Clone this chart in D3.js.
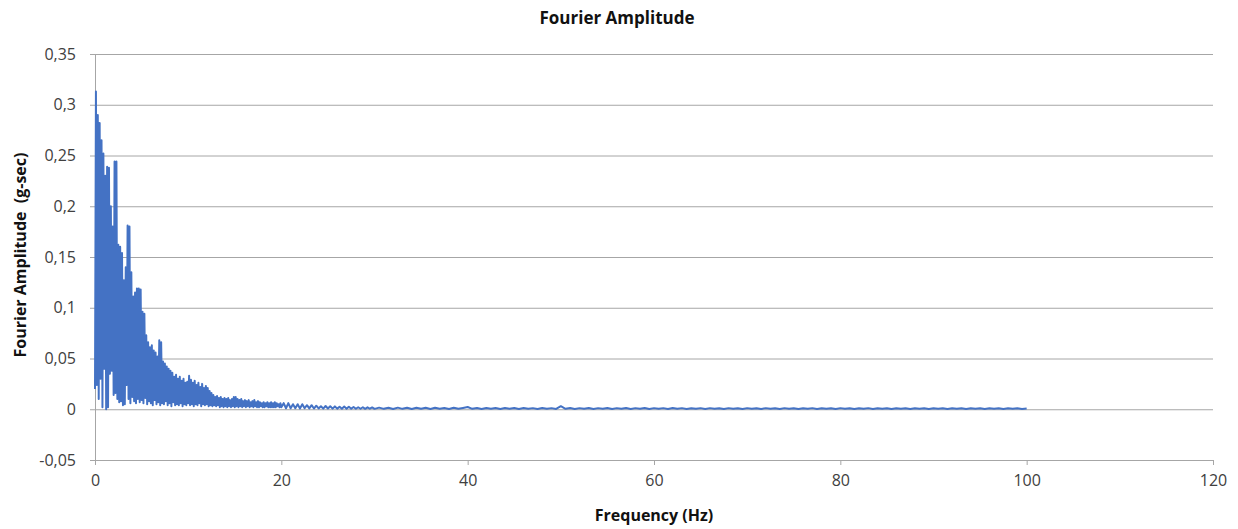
<!DOCTYPE html>
<html>
<head>
<meta charset="utf-8">
<script src="https://cdn.jsdelivr.net/npm/d3@7"></script>
<style>
  body { margin: 0; background: #fff; }
  text { font-family: "Open Sans", "Noto Sans", sans-serif; }
  .axis text { fill: #404040; font-size: 16px; }
  .axis .domain, .axis .tick line { stroke: #a6a6a6; }
  .grid line { stroke: #a6a6a6; }
  .grid .domain { display: none; }
  .title { font-size: 17px; font-weight: bold; fill: #111; }
  .axis-title { font-size: 16px; font-weight: bold; fill: #111; white-space: pre; }
</style>
</head>
<body>
<svg id="chart"></svg>
<script>
// Fourier amplitude spectrum in three bands
// band 1: 0 - 20 Hz, every 0.1 Hz
const band1Start = 0;
const band1Step = 0.1;
const band1 = [
  0.020, 0.313, 0.024, 0.290, 0.010, 0.282, 0.030, 0.265, 0.002, 0.252,
  0.040, 0.230, 0.000, 0.239, 0.002, 0.238, 0.035, 0.200, 0.038, 0.180,
  0.014, 0.244, 0.016, 0.244, 0.010, 0.162, 0.007, 0.160, 0.008, 0.154,
  0.004, 0.127, 0.005, 0.140, 0.024, 0.181, 0.010, 0.180, 0.006, 0.135,
  0.012, 0.111, 0.008, 0.115, 0.006, 0.119, 0.010, 0.119, 0.007, 0.118,
  0.009, 0.096, 0.006, 0.094, 0.011, 0.073, 0.005, 0.066, 0.008, 0.061,
  0.006, 0.063, 0.004, 0.058, 0.009, 0.056, 0.005, 0.052, 0.007, 0.068,
  0.004, 0.066, 0.006, 0.047, 0.005, 0.045, 0.008, 0.042, 0.004, 0.040,
  0.006, 0.038, 0.003, 0.036, 0.007, 0.032, 0.004, 0.034, 0.005, 0.030,
  0.004, 0.032, 0.006, 0.028, 0.003, 0.030, 0.005, 0.026, 0.004, 0.027,
  0.006, 0.033, 0.004, 0.029, 0.005, 0.026, 0.003, 0.028, 0.005, 0.024,
  0.004, 0.026, 0.006, 0.022, 0.003, 0.025, 0.005, 0.021, 0.004, 0.023,
  0.005, 0.021, 0.003, 0.018, 0.004, 0.016, 0.003, 0.014, 0.004, 0.012,
  0.003, 0.013, 0.004, 0.011, 0.002, 0.012, 0.003, 0.010, 0.002, 0.011,
  0.003, 0.010, 0.002, 0.011, 0.003, 0.009, 0.002, 0.010, 0.003, 0.012,
  0.002, 0.012, 0.003, 0.010, 0.002, 0.009, 0.003, 0.010, 0.002, 0.008,
  0.003, 0.009, 0.002, 0.008, 0.003, 0.009, 0.002, 0.007, 0.003, 0.008,
  0.002, 0.009, 0.003, 0.007, 0.002, 0.008, 0.002, 0.007, 0.003, 0.006,
  0.002, 0.007, 0.002, 0.006, 0.003, 0.007, 0.002, 0.006, 0.002, 0.007,
  0.002, 0.006, 0.002, 0.007, 0.002, 0.006, 0.003, 0.005, 0.002, 0.006,
  0.002
];

// band 2: 20.25 - 30 Hz, every 0.25 Hz
const band2Start = 20.25;
const band2Step = 0.25;
const band2 = [
  0.0060, 0.0010, 0.0060, 0.0010, 0.0050, 0.0010, 0.0050, 0.0008, 0.0050, 0.0010,
  0.0040, 0.0008, 0.0040, 0.0007, 0.0035, 0.0008, 0.0030, 0.0006, 0.0032, 0.0007,
  0.0030, 0.0006, 0.0028, 0.0006, 0.0025, 0.0005, 0.0026, 0.0006, 0.0024, 0.0005,
  0.0022, 0.0005, 0.0020, 0.0005, 0.0020, 0.0004, 0.0019, 0.0005, 0.0018, 0.0004
];

// band 3: 30.5 - 100 Hz, every 0.5 Hz
const band3Start = 30.5;
const band3Step = 0.5;
const band3 = [
  0.0016, 0.0004, 0.0015, 0.0003, 0.0016, 0.0004, 0.0014, 0.0003, 0.0015, 0.0004,
  0.0014, 0.0003, 0.0015, 0.0004, 0.0013, 0.0003, 0.0014, 0.0004, 0.0013, 0.0022,
  0.0004, 0.0013, 0.0003, 0.0012, 0.0004, 0.0013, 0.0003, 0.0012, 0.0004, 0.0013,
  0.0003, 0.0012, 0.0004, 0.0011, 0.0003, 0.0012, 0.0004, 0.0011, 0.0003, 0.0030,
  0.0004, 0.0012, 0.0003, 0.0011, 0.0004, 0.0012, 0.0003, 0.0011, 0.0004, 0.0012,
  0.0003, 0.0011, 0.0004, 0.0012, 0.0003, 0.0011, 0.0004, 0.0012, 0.0003, 0.0011,
  0.0004, 0.0011, 0.0003, 0.0012, 0.0004, 0.0011, 0.0003, 0.0010, 0.0004, 0.0011,
  0.0003, 0.0011, 0.0004, 0.0010, 0.0003, 0.0011, 0.0004, 0.0010, 0.0003, 0.0011,
  0.0004, 0.0010, 0.0003, 0.0011, 0.0004, 0.0010, 0.0003, 0.0011, 0.0004, 0.0010,
  0.0003, 0.0010, 0.0004, 0.0011, 0.0003, 0.0010, 0.0004, 0.0010, 0.0003, 0.0011,
  0.0004, 0.0010, 0.0003, 0.0010, 0.0004, 0.0011, 0.0003, 0.0010, 0.0004, 0.0010,
  0.0003, 0.0010, 0.0004, 0.0009, 0.0003, 0.0010, 0.0004, 0.0010, 0.0003, 0.0009,
  0.0004, 0.0010, 0.0003, 0.0009, 0.0004, 0.0010, 0.0003, 0.0009, 0.0004, 0.0010,
  0.0003, 0.0009, 0.0004, 0.0010, 0.0003, 0.0009, 0.0004, 0.0009, 0.0003, 0.0008
];

const xTicks = [0, 20, 40, 60, 80, 100, 120];
const yTicks = [-0.05, 0, 0.05, 0.1, 0.15, 0.2, 0.25, 0.3, 0.35];

class SpectrumChart {

  constructor(_config, _bands) {
    this.config = {
      parentElement: _config.parentElement,
      containerWidth: _config.containerWidth || 1238,
      containerHeight: _config.containerHeight || 529,
      margin: _config.margin || {top: 54, right: 25, bottom: 69, left: 95}
    }
    // flatten the bands into {f, a} points
    this.data = [];
    _bands.forEach(b => {
      b.values.forEach((v, i) => this.data.push({f: b.start + i * b.step, a: v}));
    });
    this.initVis();
  }

  initVis() {
    let vis = this;

    vis.width = vis.config.containerWidth - vis.config.margin.left - vis.config.margin.right;
    vis.height = vis.config.containerHeight - vis.config.margin.top - vis.config.margin.bottom;

    vis.locale = d3.formatLocale({decimal: ',', thousands: '.', grouping: [3], currency: ['', ''], minus: '-'});

    vis.xScale = d3.scaleLinear()
        .domain([0, 120])
        .range([0, vis.width]);

    vis.yScale = d3.scaleLinear()
        .domain([-0.05, 0.35])
        .range([vis.height, 0]);

    vis.xAxis = d3.axisBottom(vis.xScale)
        .tickValues(xTicks)
        .tickSize(5)
        .tickPadding(10)
        .tickSizeOuter(0);

    vis.yAxis = d3.axisLeft(vis.yScale)
        .tickValues(yTicks)
        .tickSize(5)
        .tickPadding(14)
        .tickSizeOuter(0)
        .tickFormat(vis.locale.format('.2~f'));

    vis.svg = d3.select(vis.config.parentElement)
        .attr('width', vis.config.containerWidth)
        .attr('height', vis.config.containerHeight);

    vis.chart = vis.svg.append('g')
        .attr('transform', `translate(${vis.config.margin.left},${vis.config.margin.top})`);

    // horizontal gridlines
    vis.chart.append('g')
        .attr('class', 'grid')
        .call(d3.axisLeft(vis.yScale)
          .tickValues(yTicks.slice(1))
          .tickSize(-vis.width)
          .tickFormat(''));

    vis.xAxisG = vis.chart.append('g')
        .attr('class', 'axis x-axis')
        .attr('transform', `translate(0,${vis.height})`);

    vis.yAxisG = vis.chart.append('g')
        .attr('class', 'axis y-axis');

    // titles
    vis.svg.append('text')
        .attr('class', 'title')
        .attr('x', 617)
        .attr('y', 24)
        .attr('text-anchor', 'middle')
        .text('Fourier Amplitude');

    vis.svg.append('text')
        .attr('class', 'axis-title')
        .attr('x', 654)
        .attr('y', 521)
        .attr('text-anchor', 'middle')
        .text('Frequency (Hz)');

    let yTitle = vis.svg.append('text')
        .attr('class', 'axis-title')
        .attr('text-anchor', 'middle')
        .attr('transform', 'translate(26,255) rotate(-90)');
    yTitle.append('tspan').text('Fourier Amplitude  (');
    yTitle.append('tspan').attr('text-decoration', 'underline').text('g');
    yTitle.append('tspan').text('-sec)');

    vis.updateVis();
  }

  updateVis() {
    let vis = this;

    vis.xValue = d => d.f;
    vis.yValue = d => d.a;

    vis.line = d3.line()
        .x(d => vis.xScale(vis.xValue(d)))
        .y(d => vis.yScale(vis.yValue(d)));

    vis.renderVis();
  }

  renderVis() {
    let vis = this;

    vis.chart.selectAll('.spectrum').remove();

    vis.chart.append('path')
        .datum(vis.data)
        .attr('class', 'spectrum')
        .attr('fill', 'none')
        .attr('stroke', '#4472c4')
        .attr('stroke-width', 2)
        .attr('stroke-linejoin', 'round')
        .attr('d', vis.line);

    vis.xAxisG.call(vis.xAxis);
    vis.yAxisG.call(vis.yAxis);
  }
}

new SpectrumChart({parentElement: '#chart'}, [
  {start: band1Start, step: band1Step, values: band1},
  {start: band2Start, step: band2Step, values: band2},
  {start: band3Start, step: band3Step, values: band3}
]);
</script>
</body>
</html>
